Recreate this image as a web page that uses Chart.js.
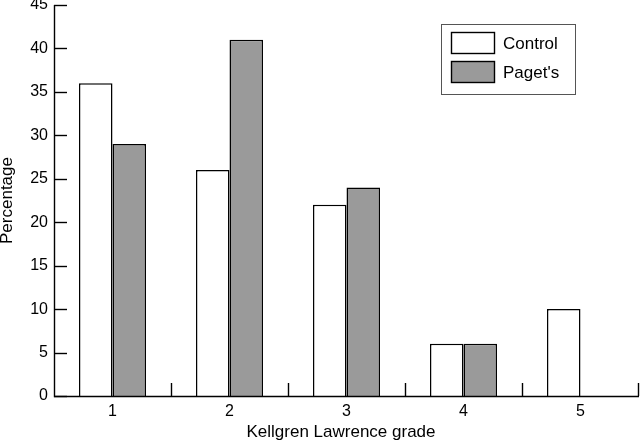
<!DOCTYPE html>
<html>
<head>
<meta charset="utf-8">
<script src="https://cdn.jsdelivr.net/npm/chart.js@4.4.0/dist/chart.umd.min.js"></script>
<style>
  html, body { margin: 0; padding: 0; background: #fff; }
  #wrap { width: 640px; height: 442px; }
</style>
</head>
<body>
<div id="wrap"><canvas id="myChart" width="640" height="442"></canvas></div>
<script>
'use strict';
// grades on the x axis
var grades = ['1', '2', '3', '4', '5'];
// percentages
var controlValues = [36, 26, 22, 6, 10];
var pagetValues = [29, 41, 24, 6, null];
var yTicks = [0, 5, 10, 15, 20, 25, 30, 35, 40, 45];
var xTitle = 'Kellgren Lawrence grade';
var yTitle = 'Percentage';

var FONT = 'Liberation Sans, Arial, Helvetica, sans-serif';

// axes, inward tick marks, axis titles and the boxed legend
var extras = {
  id: 'extras',
  afterDraw: function(chart) {
    var ctx = chart.ctx;
    var xs = chart.scales.x;
    var ys = chart.scales.y;
    var area = chart.chartArea;
    var step = xs.getPixelForValue(1) - xs.getPixelForValue(0);
    ctx.save();
    ctx.strokeStyle = '#000';
    ctx.lineWidth = 1.4;
    // axis lines
    ctx.beginPath();
    ctx.moveTo(area.left + 0.5, area.top);
    ctx.lineTo(area.left + 0.5, area.bottom + 0.5);
    ctx.lineTo(area.right, area.bottom + 0.5);
    ctx.stroke();
    // y ticks point into the plot
    for (var i = 0; i < yTicks.length; i++) {
      var py = Math.round(ys.getPixelForValue(yTicks[i])) + 0.5;
      ctx.beginPath();
      ctx.moveTo(area.left, py);
      ctx.lineTo(area.left + 13, py);
      ctx.stroke();
    }
    // x ticks between the categories, pointing up
    for (var j = 1; j <= grades.length; j++) {
      var px = Math.round(xs.getPixelForValue(j - 1) + step / 2);
      if (px > area.right - 1) { px = area.right - 1; }
      ctx.beginPath();
      ctx.moveTo(px + 0.5, area.bottom);
      ctx.lineTo(px + 0.5, area.bottom - 13);
      ctx.stroke();
    }
    // axis titles
    ctx.fillStyle = '#000';
    ctx.font = '17px ' + FONT;
    ctx.textAlign = 'center';
    ctx.textBaseline = 'middle';
    ctx.fillText(xTitle, 341, 432);
    ctx.save();
    ctx.translate(7, (area.top + area.bottom) / 2);
    ctx.rotate(-Math.PI / 2);
    ctx.fillText(yTitle, 0, 0);
    ctx.restore();
    // legend box
    ctx.textAlign = 'left';
    ctx.lineWidth = 1;
    ctx.strokeStyle = '#555';
    ctx.strokeRect(441.5, 24.5, 134, 70);
    var sets = chart.data.datasets;
    ctx.font = '17px ' + FONT;
    for (var k = 0; k < sets.length; k++) {
      var top = 32 + k * 29;
      ctx.fillStyle = sets[k].backgroundColor;
      ctx.fillRect(451, top, 44, 22);
      ctx.strokeStyle = '#000';
      ctx.lineWidth = 1.4;
      ctx.strokeRect(451.5, top + 0.5, 43, 21);
      ctx.fillStyle = '#000';
      ctx.fillText(sets[k].label, 503, top + 12);
    }
    ctx.restore();
  }
};

function noPad(scale) {
  scale.paddingTop = 0;
  scale.paddingBottom = 0;
  scale.paddingLeft = 0;
  scale.paddingRight = 0;
}

var ctx = document.getElementById('myChart').getContext('2d');
new Chart(ctx, {
  type: 'bar',
  data: {
    labels: grades,
    datasets: [
      {
        label: 'Control',
        data: controlValues,
        backgroundColor: '#ffffff',
        borderColor: '#000',
        borderWidth: 1.5,
        borderSkipped: 'bottom'
      },
      {
        label: "Paget's",
        data: pagetValues,
        backgroundColor: '#9a9a9a',
        borderColor: '#000',
        borderWidth: 1.5,
        borderSkipped: 'bottom'
      }
    ]
  },
  options: {
    responsive: false,
    animation: false,
    devicePixelRatio: 1,
    layout: { padding: { top: 5, right: 1, left: 0, bottom: 0 } },
    categoryPercentage: 0.573,
    barPercentage: 1,
    plugins: {
      legend: { display: false },
      tooltip: { enabled: false },
      title: { display: false }
    },
    scales: {
      x: {
        offset: true,
        grid: { display: false, drawTicks: false },
        border: { display: false },
        ticks: { color: '#000', font: { family: FONT, size: 16 }, padding: 6 },
        afterFit: function(scale) { scale.height = 46; noPad(scale); }
      },
      y: {
        min: 0,
        max: 45,
        grid: { display: false, drawTicks: false },
        border: { display: false },
        ticks: { stepSize: 5, color: '#000', font: { family: FONT, size: 16 }, padding: 6 },
        afterFit: function(scale) { scale.width = 54; noPad(scale); }
      }
    }
  },
  plugins: [extras]
});
</script>
</body>
</html>
